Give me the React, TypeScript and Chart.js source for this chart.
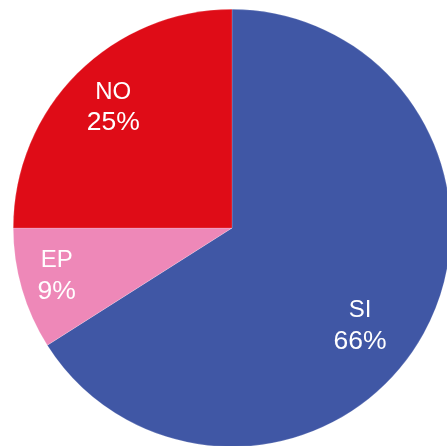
import React, { useEffect, useRef } from "react";
import { Chart, registerables } from "chart.js";

Chart.register(...registerables);

const categories = ["SI", "EP", "NO"];
const values = [66, 9, 25];
const percentLabels = ["66%", "9%", "25%"];
const colors = ["#4057A5", "#EE88B8", "#DF0C17"];
// label placement relative to each slice: fraction of radius, angle shift (deg)
const labelRadius = [0.735, 0.83, 0.775];
const labelAngleShift = [8.4, 1.1, 0.5];

const labelPlugin = {
  id: "sliceLabels",
  afterDatasetsDraw(chart: any) {
    const ctx = chart.ctx;
    const meta = chart.getDatasetMeta(0);
    ctx.save();
    ctx.fillStyle = "#ffffff";
    ctx.textAlign = "center";
    ctx.textBaseline = "middle";
    meta.data.forEach((arc: any, i: number) => {
      const p = arc.getProps(["x", "y", "startAngle", "endAngle", "outerRadius"], true);
      const mid = (p.startAngle + p.endAngle) / 2 + (labelAngleShift[i] * Math.PI) / 180;
      const r = p.outerRadius * labelRadius[i];
      const cx = p.x + Math.cos(mid) * r;
      const cy = p.y + Math.sin(mid) * r;
      ctx.font = "24px 'Liberation Sans', Arial, sans-serif";
      ctx.fillText(categories[i], cx, cy - 15);
      ctx.font = "26.5px 'Liberation Sans', Arial, sans-serif";
      ctx.fillText(percentLabels[i], cx, cy + 16);
    });
    ctx.restore();
  },
};

export default function App() {
  const ref = useRef<HTMLCanvasElement>(null);
  useEffect(() => {
    if (!ref.current) return;
    const chart = new Chart(ref.current, {
      type: "pie",
      data: {
        labels: categories,
        datasets: [
          {
            data: values,
            backgroundColor: colors,
            borderColor: "rgba(255,255,255,0.35)",
            borderWidth: 0.5,
          },
        ],
      },
      options: {
        responsive: false,
        animation: false,
        layout: { padding: 9 },
        plugins: {
          legend: { display: false },
          tooltip: { enabled: false },
        },
      },
      plugins: [labelPlugin],
    });
    return () => chart.destroy();
  }, []);
  return (
    <div
      style={{
        position: "absolute",
        left: 0,
        top: 0,
        width: 447,
        height: 446,
        overflow: "hidden",
        background: "#fff",
      }}
    >
      <canvas ref={ref} width={464} height={456} style={{ display: "block" }} />
    </div>
  );
}
